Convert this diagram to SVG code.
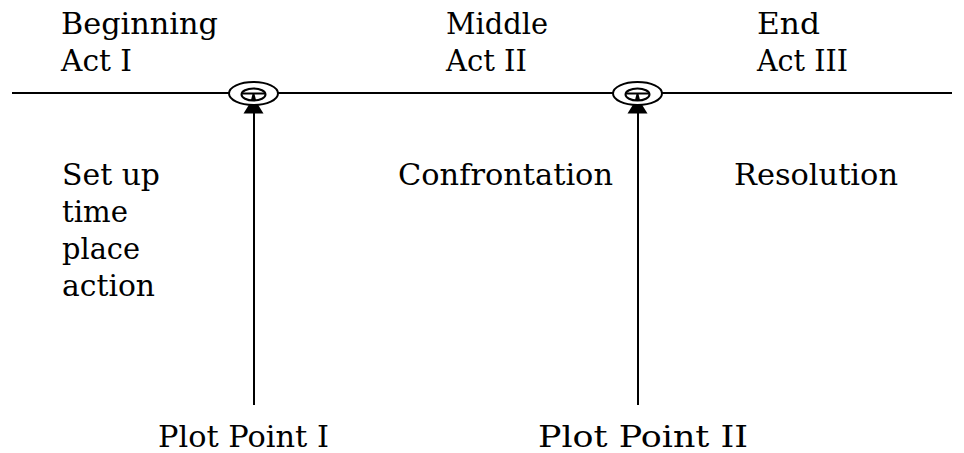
<svg xmlns="http://www.w3.org/2000/svg" width="964" height="453" viewBox="0 0 964 453">
<style>
text{font-family:"DejaVu Serif","Liberation Serif",serif;font-size:30px;fill:#000}
.ln{stroke:#000;stroke-width:2;fill:none}
.ring{stroke:#000;stroke-width:2;fill:#fff}
</style>
<defs>
<g id="pp">
<polygon points="0,4 -10,20 10,20" fill="#000"/>
<ellipse class="ring" cx="0" cy="0" rx="24.5" ry="11.5"/>
<ellipse class="ring" cx="0" cy="1" rx="12" ry="6"/>
<line x1="-12" y1="0" x2="12" y2="0" stroke="#000" stroke-width="2"/>
<polygon points="-2.5,6.5 2.5,6.5 1,0.5 -1,0.5" fill="#000"/>
</g>
</defs>
<g id="connectors">
<line class="ln" x1="12" y1="93" x2="952" y2="93"/>
<line class="ln" x1="254" y1="110" x2="254" y2="405"/>
<line class="ln" x1="638" y1="110" x2="638" y2="405"/>
</g>
<g id="plot-point-1"><use href="#pp" x="253.5" y="93.5"/></g>
<g id="plot-point-2"><use href="#pp" x="637.5" y="93.5"/></g>
<g id="act1">
<text x="61" y="34" textLength="157" lengthAdjust="spacingAndGlyphs">Beginning</text>
<text x="61" y="71" textLength="71" lengthAdjust="spacingAndGlyphs">Act I</text>
</g>
<g id="act2">
<text x="446" y="34" textLength="102" lengthAdjust="spacingAndGlyphs">Middle</text>
<text x="446" y="71" textLength="81" lengthAdjust="spacingAndGlyphs">Act II</text>
</g>
<g id="act3">
<text x="757" y="34" textLength="63" lengthAdjust="spacingAndGlyphs">End</text>
<text x="757" y="71" textLength="91" lengthAdjust="spacingAndGlyphs">Act III</text>
</g>
<g id="setup">
<text x="62" y="185" textLength="98" lengthAdjust="spacingAndGlyphs">Set up</text>
<text x="62" y="222" textLength="66" lengthAdjust="spacingAndGlyphs">time</text>
<text x="62" y="259" textLength="78" lengthAdjust="spacingAndGlyphs">place</text>
<text x="62" y="296" textLength="93" lengthAdjust="spacingAndGlyphs">action</text>
</g>
<g id="confrontation">
<text x="398" y="185" textLength="215" lengthAdjust="spacingAndGlyphs">Confrontation</text>
</g>
<g id="resolution">
<text x="734" y="185" textLength="164" lengthAdjust="spacingAndGlyphs">Resolution</text>
</g>
<g id="label-pp1">
<text x="158" y="447" textLength="171" lengthAdjust="spacingAndGlyphs">Plot Point I</text>
</g>
<g id="label-pp2">
<text x="538" y="447" textLength="210" lengthAdjust="spacingAndGlyphs">Plot Point II</text>
</g>
</svg>
